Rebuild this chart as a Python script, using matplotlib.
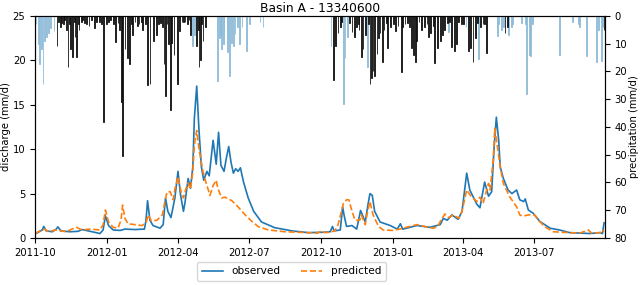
import pandas as pd
import matplotlib
matplotlib.use("Agg")
import matplotlib.pyplot as plt
import matplotlib.dates as mdates

plt.rcParams['font.size'] = 7.2

# observed discharge (mm/d), key points
obs_dates = ["2011-10-01", "2011-10-06", "2011-10-10", "2011-10-12", "2011-10-15", "2011-10-23",
             "2011-10-28", "2011-10-30", "2011-11-03", "2011-11-15", "2011-11-25", "2011-11-30",
             "2011-12-13", "2011-12-23", "2011-12-27", "2011-12-30", "2012-01-03", "2012-01-09",
             "2012-01-18", "2012-01-24", "2012-02-06", "2012-02-18", "2012-02-20", "2012-02-22",
             "2012-02-25", "2012-02-29", "2012-03-09", "2012-03-13", "2012-03-16", "2012-03-19",
             "2012-03-23", "2012-03-28", "2012-04-01", "2012-04-04", "2012-04-08", "2012-04-10",
             "2012-04-14", "2012-04-17", "2012-04-20", "2012-04-22", "2012-04-25", "2012-04-28",
             "2012-05-01", "2012-05-04", "2012-05-08", "2012-05-11", "2012-05-16", "2012-05-20",
             "2012-05-23", "2012-05-26", "2012-05-30", "2012-06-02", "2012-06-05", "2012-06-08",
             "2012-06-11", "2012-06-14", "2012-06-17", "2012-06-20", "2012-06-24", "2012-06-30",
             "2012-07-07", "2012-07-17", "2012-08-03", "2012-08-25", "2012-09-15", "2012-10-06",
             "2012-10-13", "2012-10-16", "2012-10-18", "2012-10-26", "2012-10-29", "2012-10-31",
             "2012-11-03", "2012-11-10", "2012-11-16", "2012-11-21", "2012-11-27", "2012-11-30",
             "2012-12-03", "2012-12-06", "2012-12-09", "2012-12-16", "2012-12-29", "2013-01-07",
             "2013-01-11", "2013-01-14", "2013-01-19", "2013-02-01", "2013-02-18", "2013-03-03",
             "2013-03-07", "2013-03-12", "2013-03-18", "2013-03-26", "2013-03-31", "2013-04-06",
             "2013-04-10", "2013-04-19", "2013-04-23", "2013-04-29", "2013-05-04", "2013-05-08",
             "2013-05-11", "2013-05-14", "2013-05-17", "2013-05-19", "2013-05-23", "2013-05-29",
             "2013-06-03", "2013-06-09", "2013-06-13", "2013-06-18", "2013-06-20", "2013-06-24",
             "2013-06-30", "2013-07-09", "2013-07-22", "2013-08-03", "2013-08-16", "2013-08-29",
             "2013-09-11", "2013-09-24", "2013-09-27", "2013-09-29"]
obs_values = [0.45, 0.7, 0.9, 1.3, 0.8, 0.7,
              1.0, 1.25, 0.8, 0.7, 0.75, 0.95,
              0.7, 0.5, 0.9, 2.5, 1.4, 0.9,
              0.85, 1.0, 0.95, 1.0, 2.0, 4.2,
              2.0, 1.4, 1.1, 1.5, 4.5, 3.0,
              2.3, 4.5, 7.5, 5.0, 3.0, 4.0,
              6.7, 5.6, 8.0, 13.5, 17.1, 12.0,
              8.0, 6.5, 7.5, 7.0, 11.0, 8.3,
              11.9, 8.2, 7.5, 9.0, 10.3, 8.5,
              7.3, 7.8, 7.5, 7.9, 6.3, 4.5,
              3.0, 1.8, 1.16, 0.8, 0.6, 0.65,
              0.7, 1.3, 0.8, 0.9, 3.5, 2.5,
              1.3, 1.4, 1.0, 3.1, 1.8, 3.5,
              5.0, 4.8, 3.0, 1.8, 1.4, 1.0,
              1.6, 1.0, 1.1, 1.4, 1.2, 1.5,
              2.2, 2.0, 2.6, 2.1, 3.0, 7.3,
              5.4, 3.8, 3.4, 6.3, 4.7, 5.2,
              10.0, 13.6, 11.0, 8.0, 6.7, 5.4,
              5.0, 5.4, 4.3, 4.1, 4.4, 3.15,
              2.8, 1.84, 1.1, 0.9, 0.6, 0.55,
              0.5, 0.6, 0.5, 1.7]

# predicted discharge (mm/d)
pred_dates = ["2011-10-01", "2011-10-07", "2011-10-13", "2011-10-18", "2011-10-27", "2011-11-02",
              "2011-11-10", "2011-11-17", "2011-11-23", "2011-11-30", "2011-12-10", "2011-12-23",
              "2011-12-27", "2011-12-30", "2012-01-03", "2012-01-09", "2012-01-15", "2012-01-19",
              "2012-01-21", "2012-01-24", "2012-01-28", "2012-02-06", "2012-02-15", "2012-02-20",
              "2012-02-23", "2012-02-27", "2012-03-05", "2012-03-12", "2012-03-15", "2012-03-18",
              "2012-03-22", "2012-03-26", "2012-03-28", "2012-04-01", "2012-04-05", "2012-04-08",
              "2012-04-11", "2012-04-14", "2012-04-17", "2012-04-20", "2012-04-22", "2012-04-25",
              "2012-04-28", "2012-05-01", "2012-05-03", "2012-05-07", "2012-05-12", "2012-05-16",
              "2012-05-20", "2012-05-22", "2012-05-27", "2012-05-31", "2012-06-09", "2012-06-17",
              "2012-06-26", "2012-07-05", "2012-07-13", "2012-07-26", "2012-08-16", "2012-09-15",
              "2012-09-27", "2012-10-02", "2012-10-06", "2012-10-13", "2012-10-19", "2012-10-23",
              "2012-10-27", "2012-10-30", "2012-11-03", "2012-11-06", "2012-11-10", "2012-11-14",
              "2012-11-20", "2012-11-22", "2012-11-27", "2012-11-30", "2012-12-03", "2012-12-07",
              "2012-12-14", "2012-12-20", "2013-01-01", "2013-01-10", "2013-01-23", "2013-02-01",
              "2013-02-11", "2013-02-22", "2013-02-28", "2013-03-03", "2013-03-09", "2013-03-14",
              "2013-03-20", "2013-03-27", "2013-03-31", "2013-04-06", "2013-04-12", "2013-04-19",
              "2013-04-23", "2013-04-27", "2013-05-04", "2013-05-06", "2013-05-10", "2013-05-12",
              "2013-05-15", "2013-05-19", "2013-05-23", "2013-05-31", "2013-06-09", "2013-06-13",
              "2013-06-17", "2013-06-24", "2013-07-02", "2013-07-07", "2013-07-15", "2013-07-26",
              "2013-08-16", "2013-08-29", "2013-09-09", "2013-09-13", "2013-09-24", "2013-09-27",
              "2013-09-29"]
pred_values = [0.5, 0.8, 1.0, 0.7, 0.9, 0.8,
               0.7, 1.0, 1.2, 0.9, 1.0, 0.9,
               1.5, 3.15, 1.8, 1.2, 1.1, 2.0,
               3.7, 2.2, 1.6, 1.5, 1.4, 1.7,
               2.6, 1.9, 2.0, 2.6, 4.0, 5.2,
               5.2, 4.3, 5.5, 6.9, 5.2, 4.5,
               5.5, 6.2, 5.5, 7.5, 10.5, 12.1,
               10.0, 8.5, 7.5, 6.2, 4.8, 5.9,
               6.5, 5.6, 4.5, 4.6, 4.2, 3.5,
               2.6, 1.84, 1.27, 0.9, 0.7, 0.6,
               0.55, 0.8, 0.6, 0.65, 0.8, 1.46,
               2.8, 3.9, 4.3, 4.3, 3.0, 2.0,
               2.0, 2.6, 1.5, 3.0, 4.1, 2.6,
               1.3, 0.9, 0.85, 1.0, 1.3, 1.5,
               1.3, 1.1, 1.3, 1.84, 2.7, 2.3,
               2.6, 2.2, 3.0, 5.4, 4.65, 4.1,
               4.6, 3.9, 6.15, 5.4, 8.8, 12.35,
               10.5, 8.0, 6.15, 4.65, 3.5, 2.6,
               2.45, 2.6, 2.6, 2.0, 1.27, 0.7,
               0.6, 0.55, 0.9, 0.55, 0.6, 0.9,
               0.7]

# daily precipitation (mm/d), rain days (black)
rain_dates = ["2011-10-29", "2011-10-31", "2011-11-02", "2011-11-04", "2011-11-06", "2011-11-08",
              "2011-11-10", "2011-11-12", "2011-11-14", "2011-11-15", "2011-11-18", "2011-11-20",
              "2011-11-21", "2011-11-23", "2011-11-25", "2011-11-26", "2011-11-29", "2011-12-01",
              "2011-12-03", "2011-12-06", "2011-12-09", "2011-12-12", "2011-12-16", "2011-12-19",
              "2011-12-22", "2011-12-25", "2011-12-28", "2011-12-31", "2012-01-03", "2012-01-06",
              "2012-01-09", "2012-01-12", "2012-01-15", "2012-01-17", "2012-01-20", "2012-01-21",
              "2012-01-24", "2012-01-27", "2012-01-30", "2012-02-01", "2012-02-03", "2012-02-06",
              "2012-02-09", "2012-02-11", "2012-02-14", "2012-02-16", "2012-02-19", "2012-02-22",
              "2012-02-25", "2012-03-01", "2012-03-04", "2012-03-07", "2012-03-10", "2012-03-12",
              "2012-03-14", "2012-03-16", "2012-03-18", "2012-03-20", "2012-03-22", "2012-03-24",
              "2012-03-27", "2012-03-31", "2012-04-03", "2012-04-06", "2012-04-08", "2012-04-10",
              "2012-04-13", "2012-04-15", "2012-04-17", "2012-04-25", "2012-04-27", "2012-04-28",
              "2012-04-30", "2012-05-01", "2012-05-03", "2012-05-06",
              "2012-10-17", "2012-10-20", "2012-10-23", "2012-10-26", "2012-10-28", "2012-11-07",
              "2012-11-10", "2012-11-13", "2012-11-16", "2012-11-18", "2012-11-19", "2012-11-22",
              "2012-11-24", "2012-11-27", "2012-12-01", "2012-12-03", "2012-12-05", "2012-12-07",
              "2012-12-09", "2012-12-12", "2012-12-14", "2012-12-16", "2012-12-19", "2012-12-21",
              "2012-12-24", "2012-12-26", "2012-12-29", "2013-01-02", "2013-01-05", "2013-01-08",
              "2013-01-12", "2013-01-14", "2013-01-17", "2013-01-20", "2013-01-23", "2013-01-25",
              "2013-01-28", "2013-01-30", "2013-02-01", "2013-02-04", "2013-02-07", "2013-02-11",
              "2013-02-14", "2013-02-16", "2013-02-19", "2013-02-22", "2013-02-24", "2013-02-28",
              "2013-03-03", "2013-03-06", "2013-03-09", "2013-03-12", "2013-03-15", "2013-03-18",
              "2013-03-21", "2013-03-24", "2013-03-27", "2013-03-30", "2013-04-02", "2013-04-08",
              "2013-04-11", "2013-04-14", "2013-04-17", "2013-04-20", "2013-04-24", "2013-04-27",
              "2013-04-29", "2013-05-01", "2013-05-25", "2013-05-28", "2013-09-29"]
rain_values = [10.7, 2.0, 4.0, 2.5, 3.0, 1.5,
               5.0, 18.5, 3.0, 12.0, 14.9, 2.0,
               7.6, 14.9, 3.0, 5.0, 2.0, 1.5,
               2.5, 3.0, 3.5, 1.5, 4.5, 2.0,
               2.0, 3.0, 38.3, 3.0, 2.0, 1.5,
               3.0, 9.5, 2.5, 5.0, 31.0, 50.3,
               12.0, 15.0, 17.3, 3.0, 7.0, 2.0,
               3.5, 3.0, 2.0, 5.0, 3.0, 25.0,
               24.5, 8.9, 6.9, 3.0, 2.5, 4.0,
               17.3, 28.7, 3.0, 10.0, 34.0, 9.6,
               14.0, 24.5, 5.5, 2.0, 2.0, 2.0,
               3.0, 1.5, 7.0, 10.7, 5.0, 18.5,
               15.9, 3.0, 9.0, 4.0,
               23.0, 11.0, 6.0, 4.0, 2.0, 2.5,
               5.8, 7.6, 4.0, 3.0, 5.0, 14.9,
               12.0, 7.0, 3.0, 24.5, 22.5, 19.8,
               21.5, 13.6, 8.0, 6.0, 16.7, 5.0,
               2.5, 11.4, 4.0, 3.0, 5.5, 3.5,
               20.3, 4.0, 3.0, 2.5, 4.0, 11.5,
               14.0, 16.7, 9.0, 2.0, 5.0, 4.0,
               3.0, 7.5, 6.0, 3.5, 16.9, 11.5,
               9.0, 7.0, 5.0, 2.5, 2.0, 11.3,
               12.6, 10.0, 2.0, 3.0, 3.0, 12.5,
               11.4, 16.6, 8.0, 2.5, 4.0, 3.0,
               3.0, 13.5, 6.2, 4.0, 5.0]

# daily precipitation (mm/d), snow days (light blue)
snow_dates = ["2011-10-02", "2011-10-05", "2011-10-07", "2011-10-09", "2011-10-11", "2011-10-13",
              "2011-10-15", "2011-10-18", "2011-10-21", "2011-10-25",
              "2012-04-20", "2012-04-22", "2012-05-22", "2012-05-24", "2012-05-25", "2012-05-27",
              "2012-05-29", "2012-05-30", "2012-06-03", "2012-06-04", "2012-06-06", "2012-06-09",
              "2012-06-11", "2012-06-13", "2012-06-16", "2012-06-19", "2012-06-22", "2012-06-28",
              "2012-07-02", "2012-07-15", "2012-07-19",
              "2012-10-14", "2012-10-30", "2012-11-01", "2012-11-04", "2012-11-30",
              "2013-03-14", "2013-04-05", "2013-04-21", "2013-05-15", "2013-05-17", "2013-05-21",
              "2013-05-23", "2013-05-30", "2013-06-02", "2013-06-04", "2013-06-15", "2013-06-20",
              "2013-06-22", "2013-06-25", "2013-06-27", "2013-06-29", "2013-08-03", "2013-08-20",
              "2013-08-27", "2013-08-29", "2013-09-07", "2013-09-19", "2013-09-22", "2013-09-26",
              "2013-09-27"]
snow_values = [3.0, 10.0, 17.3, 12.0, 24.5, 9.0,
               7.5, 6.0, 4.5, 5.5,
               10.7, 7.0, 23.3, 8.0, 6.9, 12.0,
               10.0, 5.0, 13.0, 8.0, 21.5, 9.6,
               11.0, 6.5, 4.0, 10.0, 4.0, 12.6,
               3.0, 2.0, 3.9,
               10.7, 31.7, 15.0, 7.5, 18.5,
               5.8, 4.0, 15.5, 7.4, 3.0, 4.9,
               4.0, 6.9, 4.0, 3.0, 2.5, 3.0,
               28.1, 14.0, 14.5, 3.0, 14.0, 2.0,
               3.0, 4.0, 14.5, 16.7, 5.0, 16.2,
               4.0]

obs = pd.Series(obs_values, index=pd.to_datetime(obs_dates))
pred = pd.Series(pred_values, index=pd.to_datetime(pred_dates))
rain = pd.Series(rain_values, index=pd.to_datetime(rain_dates))
snow = pd.Series(snow_values, index=pd.to_datetime(snow_dates))

fig = plt.figure(figsize=(6.4, 2.85), dpi=100)
ax = fig.add_axes([0.055, 0.165, 0.89, 0.779])

ax.plot(obs.index, obs.values, color='tab:blue', lw=1.2, label='observed')
ax.plot(pred.index, pred.values, color='tab:orange', lw=1.2, ls='--', label='predicted')
ax.set_ylim(0, 25)
ax.set_xlim(pd.Timestamp("2011-10-01"), pd.Timestamp("2013-09-30"))
ax.set_ylabel("discharge (mm/d)", labelpad=1)
ax.set_title("Basin A - 13340600", fontsize=8.8, pad=3)
ax.xaxis.set_major_locator(mdates.MonthLocator(bymonth=[1, 4, 7, 10]))
ax.xaxis.set_major_formatter(mdates.DateFormatter('%Y-%m'))

ax2 = ax.twinx()
ax2.bar(snow.index, snow.values, width=1, color='#8fbbd9', edgecolor='#8fbbd9', lw=0.6)
ax2.bar(rain.index, rain.values, width=1, color='#111111', edgecolor='#111111', lw=0.6)
ax2.set_ylim(80, 0)
ax2.set_ylabel("precipitation (mm/d)", labelpad=1)

# legend sits a bit left of centre in the original
ax.legend(loc='upper center', bbox_to_anchor=(0.45, -0.085), ncol=2, fontsize=7.6)

fig.savefig("out.png", dpi=100)
